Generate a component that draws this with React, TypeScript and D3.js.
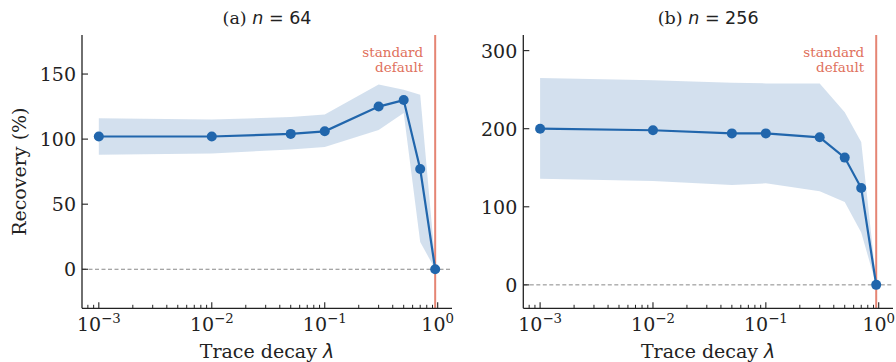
import * as d3 from "d3"

// trace decay values (x) shared by both panels
const lambdas = [0.001, 0.01, 0.05, 0.1, 0.3, 0.5, 0.7, 0.95]

// (a) n = 64
const recoveryA = [102, 102, 104, 106, 125, 130, 77, 0]
const upperA = [116, 115, 117, 119, 142, 138, 134, 5]
const lowerA = [88, 89, 92, 94, 107, 120, 21, 0]

// (b) n = 256
const recoveryB = [200, 198, 194, 194, 189, 163, 124, 0]
const upperB = [265, 262, 259, 258, 258, 221, 183, 5]
const lowerB = [136, 133, 128, 130, 120, 106, 67, 0]

const defaultLambda = 0.95
const yTicksA = [0, 50, 100, 150]
const yTicksB = [0, 100, 200, 300]
const xTicks = [-3, -2, -1, 0]

const SERIF = "DejaVu Serif"
const SANS = "DejaVu Sans"
const BLUE = "#2166ac"
const RED = "#e0705c"

type PanelProps = {
  left: number
  right: number
  letter: string
  n: number
  values: number[]
  upper: number[]
  lower: number[]
  yDomain: [number, number]
  yTicks: number[]
  showYLabel: boolean
}

function Panel({ left, right, letter, n, values, upper, lower, yDomain, yTicks, showYLabel }: PanelProps) {
  const top = 35
  const bottom = 308.3
  const logSpan = Math.log10(defaultLambda) - Math.log10(lambdas[0])
  const pad = logSpan * 0.05
  const x = d3
    .scaleLog()
    .domain([Math.pow(10, -3 - pad), Math.pow(10, Math.log10(defaultLambda) + pad)])
    .range([left, right])
  const y = d3.scaleLinear().domain(yDomain).range([bottom, top])

  const area = d3
    .area<number>()
    .x((d) => x(d))
    .y0((_, i) => y(lower[i]))
    .y1((_, i) => y(upper[i]))
  const line = d3
    .line<number>()
    .x((d) => x(d))
    .y((_, i) => y(values[i]))

  // minor ticks of log axis
  const [d0, d1] = x.domain()
  const minor: number[] = []
  for (let k = -4; k <= 0; k++) {
    for (let m = 2; m <= 9; m++) {
      const v = m * Math.pow(10, k)
      if (v >= d0 && v <= d1) minor.push(v)
    }
  }

  const cx = (left + right) / 2
  const rx = x(defaultLambda)

  return (
    <g>
      <path d={area(lambdas) || ""} fill={BLUE} fillOpacity={0.2} />
      <line x1={left} x2={right} y1={y(0)} y2={y(0)} stroke="#888" strokeWidth={1} strokeDasharray="4,2.5" />
      <line x1={rx} x2={rx} y1={top} y2={bottom} stroke={RED} strokeWidth={2} strokeOpacity={0.85} />
      <text x={rx - 12} y={57} fontFamily={SERIF} fontSize={13.5} fill={RED} textAnchor="end">
        standard
      </text>
      <text x={rx - 12} y={72} fontFamily={SERIF} fontSize={13.5} fill={RED} textAnchor="end">
        default
      </text>
      <path d={line(lambdas) || ""} fill="none" stroke={BLUE} strokeWidth={2.2} />
      {lambdas.map((d, i) => (
        <circle key={i} cx={x(d)} cy={y(values[i])} r={5} fill={BLUE} />
      ))}

      {/* axes */}
      <line x1={left} x2={left} y1={top} y2={bottom} stroke="#222" strokeWidth={1.3} />
      <line x1={left} x2={right} y1={bottom} y2={bottom} stroke="#222" strokeWidth={1.3} />
      {yTicks.map((t) => (
        <g key={t}>
          <line x1={left} x2={left + 6} y1={y(t)} y2={y(t)} stroke="#222" strokeWidth={1.1} />
          <text x={left - 6} y={y(t) + 7} fontFamily={SERIF} fontSize={19} fill="#222" textAnchor="end">
            {t}
          </text>
        </g>
      ))}
      {minor.map((v, i) => (
        <line key={i} x1={x(v)} x2={x(v)} y1={bottom} y2={bottom - 3.5} stroke="#222" strokeWidth={1} />
      ))}
      {xTicks.map((e) => (
        <g key={e}>
          <line x1={x(Math.pow(10, e))} x2={x(Math.pow(10, e))} y1={bottom} y2={bottom - 6} stroke="#222" strokeWidth={1.1} />
          <text x={x(Math.pow(10, e))} y={330.7} fontFamily={SERIF} fontSize={19} fill="#222" textAnchor="middle">
            10
            <tspan fontSize={13.3} dy={-7.7}>
              {e < 0 ? "\u2212" + Math.abs(e) : String(e)}
            </tspan>
          </text>
        </g>
      ))}
      <text x={cx} y={357.5} fontFamily={SERIF} fontSize={19} fill="#222" textAnchor="middle">
        Trace decay{" "}
        <tspan fontFamily={SANS} fontStyle="italic">
          λ
        </tspan>
      </text>
      {showYLabel && (
        <text
          transform={`translate(26,${(top + bottom) / 2}) rotate(-90)`}
          fontFamily={SERIF}
          fontSize={19}
          fill="#222"
          textAnchor="middle"
        >
          Recovery (%)
        </text>
      )}
      <text x={cx} y={24} fontFamily={SERIF} fontSize={17.5} fill="#222" textAnchor="middle">
        ({letter}){" "}
        <tspan fontFamily={SANS} fontStyle="italic">
          n
        </tspan>
        <tspan fontFamily={SANS}> = {n}</tspan>
      </text>
    </g>
  )
}

export default function App() {
  return (
    <svg
      width={896}
      height={362}
      style={{ position: "absolute", left: 0, top: 0, background: "#fff" }}
    >
      <rect width={896} height={362} fill="#fff" />
      <Panel
        left={82}
        right={452}
        letter="a"
        n={64}
        values={recoveryA}
        upper={upperA}
        lower={lowerA}
        yDomain={[-30, 180]}
        yTicks={yTicksA}
        showYLabel
      />
      <Panel
        left={523.3}
        right={893}
        letter="b"
        n={256}
        values={recoveryB}
        upper={upperB}
        lower={lowerB}
        yDomain={[-30, 320]}
        yTicks={yTicksB}
        showYLabel={false}
      />
    </svg>
  )
}
